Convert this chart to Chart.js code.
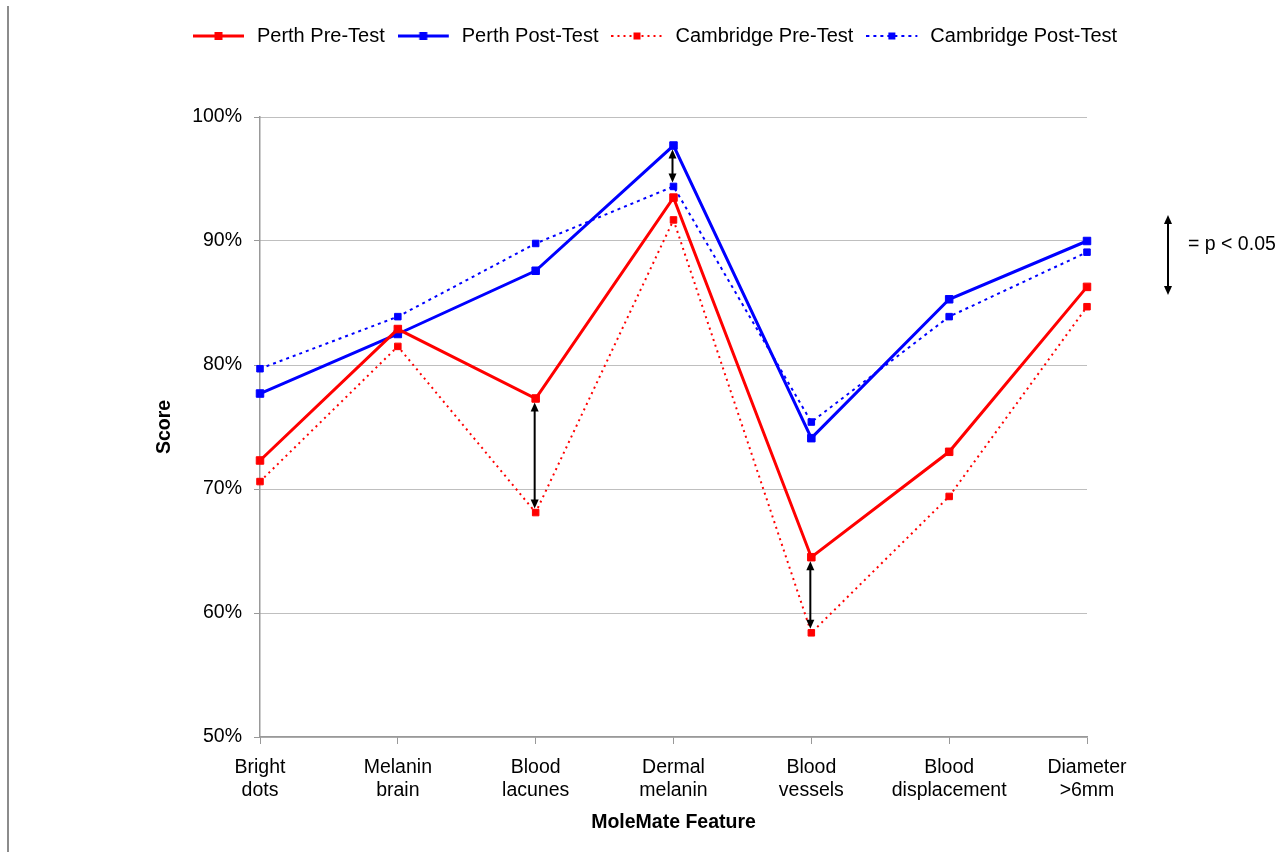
<!DOCTYPE html>
<html>
<head>
<meta charset="utf-8">
<script src="https://cdn.jsdelivr.net/npm/chart.js@4.4.1/dist/chart.umd.min.js"></script>
<style>
html, body { margin: 0; padding: 0; background: #fff; }
#wrap { position: relative; width: 1284px; height: 852px; overflow: hidden; }
#grafico { position: absolute; left: 0; top: 0; }
#borde { position: absolute; left: 7px; top: 6px; bottom: 0; width: 2px; background: #8c8c8c; }
</style>
</head>
<body>
<div id="wrap">
  <canvas id="grafico" width="1284" height="852"></canvas>
  <div id="borde"></div>
</div>
<script>
// datos
const categorias = [['Bright', 'dots'], ['Melanin', 'brain'], ['Blood', 'lacunes'], ['Dermal', 'melanin'],
                    ['Blood', 'vessels'], ['Blood', 'displacement'], ['Diameter', '>6mm']];
const perthPre      = [72.3, 82.9, 77.3, 93.5, 64.5, 73.0, 86.3];
const perthPost     = [77.7, 82.5, 87.6, 97.7, 74.1, 85.3, 90.0];
const cambridgePre  = [70.6, 81.5, 68.1, 91.7, 58.4, 69.4, 84.7];
const cambridgePost = [79.7, 83.9, 89.8, 94.4, 75.4, 83.9, 89.1];
const ticksY = [50, 60, 70, 80, 90, 100];
// diferencias significativas: [categoria, serie arriba, serie abajo]
const flechasSig = [[2, perthPre, cambridgePre], [3, perthPost, cambridgePost], [4, perthPre, cambridgePre]];

const ROJO = '#ff0000';
const AZUL = '#0000ff';
const FUENTE = 19.5;

Chart.defaults.font.family = '"Liberation Sans", Arial, sans-serif';
Chart.defaults.color = '#000';

function muestra(color, ancho, guion, lado) {
    const c = document.createElement('canvas');
    c.width = 54; c.height = 14;
    const g = c.getContext('2d');
    g.strokeStyle = color; g.lineWidth = ancho; g.setLineDash(guion);
    g.beginPath(); g.moveTo(0, 7); g.lineTo(51, 7); g.stroke();
    g.fillStyle = color;
    g.fillRect(25.5 - lado / 2, 7 - lado / 2, lado, lado);
    return c;
}
const muestras = [
    muestra(ROJO, 3, [], 8),
    muestra(AZUL, 3, [], 8),
    muestra(ROJO, 2, [2, 4], 7),
    muestra(AZUL, 2, [3, 4], 7)
];

function cabeza(ctx, px, punta, dir) {
    ctx.beginPath();
    ctx.moveTo(px, punta);
    ctx.lineTo(px - 4, punta + dir * 9);
    ctx.lineTo(px + 4, punta + dir * 9);
    ctx.closePath();
    ctx.fill();
}
function flecha(ctx, px, y1, y2) {
    const d = y2 > y1 ? 1 : -1;
    const a = y1 + d * 4, b = y2 - d * 4;
    ctx.beginPath(); ctx.moveTo(px, a + d * 6); ctx.lineTo(px, b - d * 6); ctx.stroke();
    cabeza(ctx, px, a, d);
    cabeza(ctx, px, b, -d);
}

const flechas = {
    id: 'flechas',
    afterDatasetsDraw(chart) {
        const {ctx, chartArea, scales: {x, y}} = chart;
        ctx.save();
        ctx.strokeStyle = '#000'; ctx.fillStyle = '#000'; ctx.lineWidth = 2;
        flechasSig.forEach(([i, a, b]) => {
            flecha(ctx, x.getPixelForValue(i) - 1, y.getPixelForValue(a[i]), y.getPixelForValue(b[i]));
        });
        // clave
        const kx = chartArea.right + 81;
        flecha(ctx, kx, 211, 299);
        ctx.font = FUENTE + 'px "Liberation Sans", Arial, sans-serif';
        ctx.textBaseline = 'middle';
        ctx.fillText('= p < 0.05', kx + 20, 245);
        ctx.restore();
    }
};

const serie = (label, data, color, ancho, guion, radio) => ({
    label, data,
    borderColor: color, backgroundColor: color,
    borderWidth: ancho, borderDash: guion,
    pointStyle: 'rect', pointRadius: radio, pointBorderWidth: 1,
    pointBackgroundColor: color, pointBorderColor: color,
    tension: 0, fill: false
});

new Chart(document.getElementById('grafico'), {
    type: 'line',
    data: {
        labels: categorias,
        datasets: [
            serie('Perth Pre-Test', perthPre, ROJO, 3, [], 5.3),
            serie('Perth Post-Test', perthPost, AZUL, 3, [], 5.3),
            serie('Cambridge Pre-Test', cambridgePre, ROJO, 2, [2, 4], 4.6),
            serie('Cambridge Post-Test', cambridgePost, AZUL, 2, [3, 4], 4.6)
        ]
    },
    options: {
        responsive: false,
        animation: false,
        layout: { padding: { left: 26, top: 13, right: 0, bottom: 0 } },
        plugins: {
            tooltip: { enabled: false },
            legend: {
                position: 'top',
                labels: {
                    usePointStyle: true,
                    pointStyleWidth: 54,
                    padding: 13,
                    color: '#000',
                    font: { size: 20 },
                    generateLabels: chart => chart.data.datasets.map((ds, i) => ({
                        text: ds.label, pointStyle: muestras[i], datasetIndex: i,
                        hidden: false, lineWidth: 0, fontColor: '#000',
                        fillStyle: 'transparent', strokeStyle: 'transparent'
                    }))
                }
            },
            title: { display: true, text: '', weight: 500, font: { size: 10 }, padding: { top: 0, bottom: 49 } }
        },
        scales: {
            x: {
                offset: false,
                grid: { display: true, drawOnChartArea: false, drawTicks: true, tickLength: 7, color: '#999', tickColor: '#999' },
                border: { color: '#999', width: 1.5 },
                ticks: { font: { size: FUENTE }, padding: 12, maxRotation: 0, autoSkip: false, color: '#000' },
                title: { display: true, text: 'MoleMate Feature', color: '#000',
                         font: { size: FUENTE, weight: 'bold' }, padding: { top: 0, bottom: 18 } },
                afterFit: s => { s.height = 115; }
            },
            y: {
                min: 50, max: 100,
                afterBuildTicks: s => { s.ticks = ticksY.map(v => ({ value: v })); },
                ticks: { callback: v => v + '%', padding: 12, color: '#000', font: { size: FUENTE } },
                grid: { color: '#7f7f7f', lineWidth: 1, tickLength: 6, tickColor: '#999', tickBorderDash: [] },
                border: { color: '#999', width: 1.5, dash: [1, 1] },
                title: { display: true, text: 'Score', color: '#000',
                         font: { size: FUENTE, weight: 'bold' }, padding: { top: 127, bottom: 0 } },
                afterFit: s => { s.width = 234; }
            },
            y2: {
                position: 'right',
                grid: { display: false },
                border: { display: false },
                ticks: { display: false },
                afterFit: s => { s.width = 197; }
            }
        }
    },
    plugins: [flechas]
});
</script>
</body>
</html>
